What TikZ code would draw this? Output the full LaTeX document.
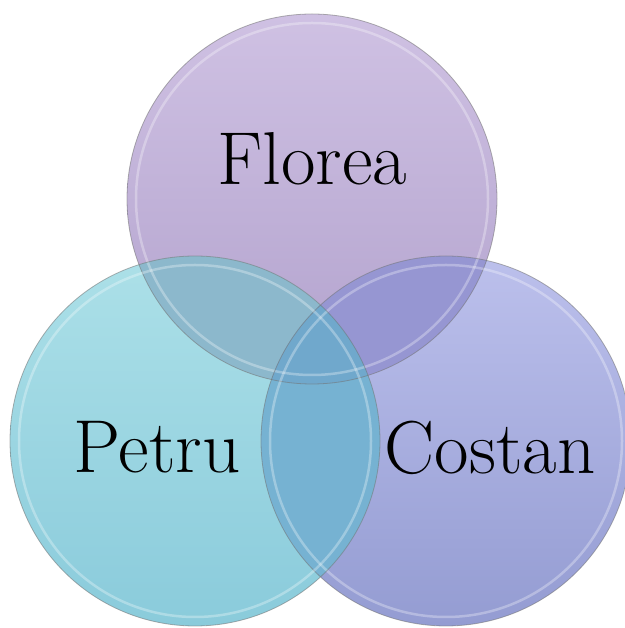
\documentclass[tikz,border=0pt]{standalone}
\usepackage{tikz}
\usetikzlibrary{calc}

\definecolor{floreaTop}{RGB}{207,193,227}
\definecolor{floreaBot}{RGB}{178,162,205}
\definecolor{petruTop}{RGB}{172,224,232}
\definecolor{petruBot}{RGB}{138,203,219}
\definecolor{costanTop}{RGB}{188,192,236}
\definecolor{costanBot}{RGB}{148,156,210}
\definecolor{fpMix}{RGB}{140,184,204}
\definecolor{fcMix}{RGB}{150,150,210}
\definecolor{pcMix}{RGB}{118,178,210}
\definecolor{allMix}{RGB}{112,168,204}

\tikzset{
  rim/.style={draw=black!55, line width=0.8pt, draw opacity=0.55},
  bevel/.style={draw=white, line width=2.5pt, draw opacity=0.3},
  setname/.style={font=\fontsize{75}{85}\selectfont, anchor=base, text=black}
}

\begin{document}
\begin{tikzpicture}[x=1pt,y=1pt]
  \useasboundingbox (0,0) rectangle (624,628);
  \coordinate (cF) at (312,429);
  \coordinate (cP) at (195,187);
  \coordinate (cC) at (446,187);

  % the three sets
  \shade[top color=floreaTop, bottom color=floreaBot] (cF) circle (185pt);
  \shade[top color=costanTop, bottom color=costanBot] (cC) circle (185pt);
  \shade[top color=petruTop, bottom color=petruBot] (cP) circle (185pt);

  % overlaps
  \begin{scope}
    \clip (cF) circle (185pt);
    \fill[fpMix] (cP) circle (185pt);
    \fill[fcMix] (cC) circle (185pt);
  \end{scope}
  \begin{scope}
    \clip (cP) circle (185pt);
    \fill[pcMix] (cC) circle (185pt);
    \clip (cC) circle (185pt);
    \fill[allMix] (cF) circle (185pt);
  \end{scope}

  % rims
  \foreach \c in {cF,cC,cP}{
    \draw[bevel] (\c) circle (176pt);
    \draw[rim] (\c) circle (185pt);
  }

  \node[setname] (florea) at (312,443) {Florea};
  \node[setname] (petru) at (157,155) {Petru};
  \node[setname] (costan) at (490,154) {Costan};
\end{tikzpicture}
\end{document}
